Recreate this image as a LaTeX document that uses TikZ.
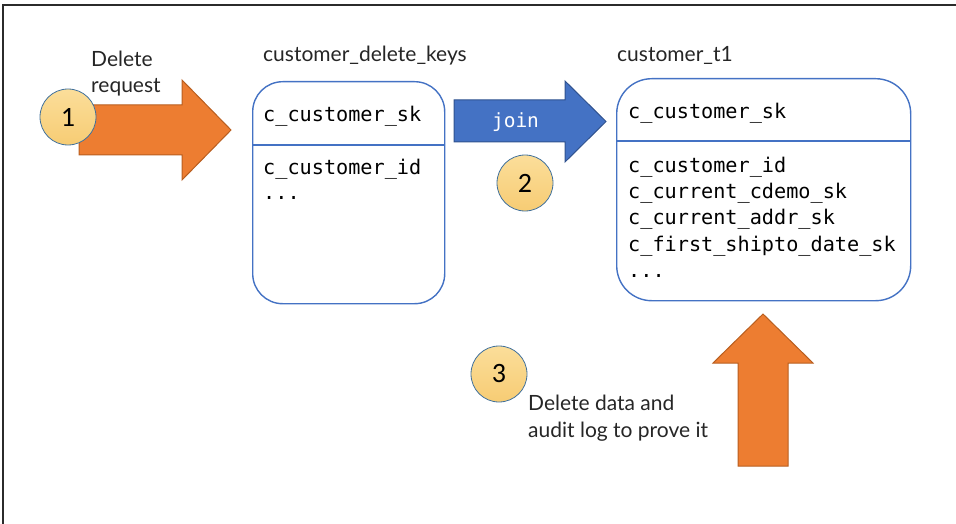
\documentclass[tikz,border=0pt]{standalone}
\usepackage{fontspec}
\setmainfont{Lato}
\newfontfamily\monofont{DejaVu Sans Mono}
\newfontfamily\numfont{Carlito}
\definecolor{tblue}{HTML}{4472C4}
\definecolor{tblueedge}{HTML}{2F528F}
\definecolor{aorange}{HTML}{ED7D31}
\definecolor{aorangeedge}{HTML}{B85E1F}
\definecolor{badgetop}{HTML}{FBDE9A}
\definecolor{badgebot}{HTML}{F7CC74}
\definecolor{badgeedge}{HTML}{41719C}
\definecolor{labelgray}{HTML}{262626}
\definecolor{framegray}{HTML}{2B2B2B}
\tikzset{
  tbl/.style={draw=tblue, line width=1.4pt, fill=white, inner sep=0pt},
  field/.style={font=\monofont\fontsize{20.2}{24}\selectfont, anchor=base west, inner sep=0pt},
  caption/.style={font=\fontsize{21}{25}\selectfont, text=labelgray, anchor=base west, inner sep=0pt},
  badge/.style={circle, draw=badgeedge, line width=0.8pt, minimum size=56pt, inner sep=0pt,
    top color=badgetop, bottom color=badgebot, font=\numfont\fontsize{28}{28}\selectfont},
  fatarrow/.style={line width=1pt, line join=miter},
}
\begin{document}
\begin{tikzpicture}[x=1pt,y=-1pt]
\useasboundingbox (0,0) rectangle (956,524);

% outer frame (top and left edges)
\draw[framegray, line width=2pt] (956,5) -- (3,5) -- (3,524);

% step 1: delete request arrow
\draw[fatarrow, fill=aorange, draw=aorangeedge]
  (79,105) -- (182,105) -- (182,80) -- (231,130) -- (182,180) -- (182,155) -- (79,155) -- cycle;
\node[badge] (b1) at (68,117) {1};
\node[caption] (req1) at (91,67) {Delete};
\node[caption] (req2) at (91,93) {request};

% table customer_delete_keys
\node[caption] (keyslbl) at (263,62) {customer\_delete\_keys};
\node[tbl, rounded corners=30pt, minimum width=192pt, minimum height=222pt, anchor=north west] (keys) at (252,81) {};
\draw[tblue, line width=1.4pt] (keys.west |- 0,145) -- (keys.east |- 0,145);
\node[field] (k1) at (263,122) {c\_customer\_sk};
\node[field] (k2) at (263,175) {c\_customer\_id};
\node[field] (k3) at (263,200) {...};

% step 2: join arrow
\draw[fatarrow, fill=tblue, draw=tblueedge]
  (454,100) -- (565,100) -- (565,81) -- (606,121.5) -- (565,162) -- (565,142) -- (454,142) -- cycle;
\node[font=\monofont\fontsize{19.5}{22}\selectfont, text=white, anchor=base, inner sep=0pt] (joinlbl) at (515.5,128) {join};
\node[badge] (b2) at (525,183) {2};

% table customer_t1
\node[caption] (t1lbl) at (617,62) {customer\_t1};
\node[tbl, rounded corners=35pt, minimum width=294pt, minimum height=222pt, anchor=north west] (t1) at (616,78) {};
\draw[tblue, line width=1.4pt] (t1.west |- 0,141) -- (t1.east |- 0,141);
\node[field] (c1) at (628,119) {c\_customer\_sk};
\node[field] (c2) at (628,172) {c\_customer\_id};
\node[field] (c3) at (628,198) {c\_current\_cdemo\_sk};
\node[field] (c4) at (628,224) {c\_current\_addr\_sk};
\node[field] (c5) at (628,251) {c\_first\_shipto\_date\_sk};
\node[field] (c6) at (628,277) {...};

% step 3: delete and audit arrow
\draw[fatarrow, fill=aorange, draw=aorangeedge]
  (738,466) -- (738,363) -- (713,363) -- (763,314) -- (813,363) -- (788,363) -- (788,466) -- cycle;
\node[badge] (b3) at (499,374) {3};
\node[caption] (del1) at (528,410) {Delete data and};
\node[caption] (del2) at (528,437) {audit log to prove it};
\end{tikzpicture}
\end{document}
